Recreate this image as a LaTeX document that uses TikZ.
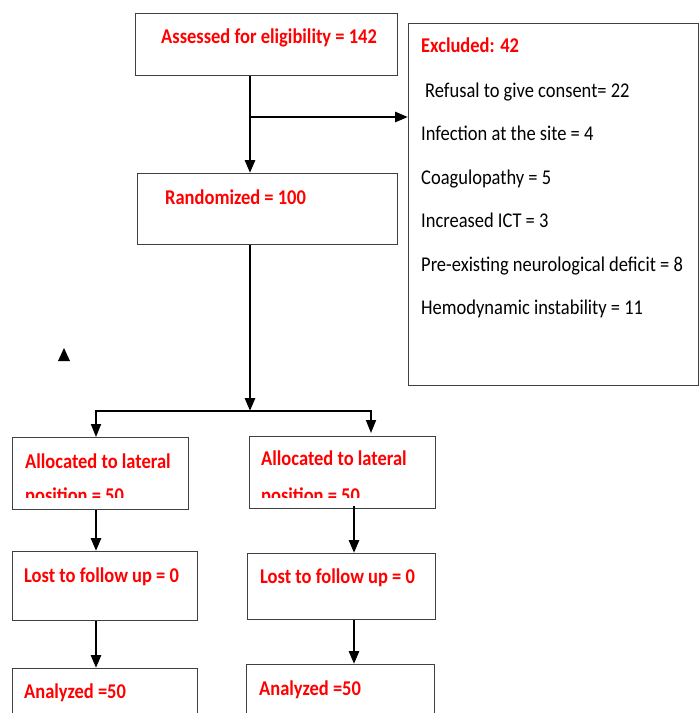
\documentclass[tikz,border=0pt]{standalone}
\usepackage{fontspec}
\setmainfont{Carlito}[FakeStretch=0.88]
\usetikzlibrary{arrows.meta}

\tikzset{
  box/.style={draw=black!75, line width=1.3pt, anchor=north west, inner sep=0pt},
  redtxt/.style={text=red, font=\bfseries\fontsize{21}{25}\selectfont, anchor=base west, inner sep=0pt},
  blktxt/.style={font=\fontsize{21}{25}\selectfont, anchor=base west, inner sep=0pt},
  arr/.style={line width=2.8pt, -{Triangle[length=13pt,width=10pt]}},
  thinarr/.style={line width=1.8pt, -{Triangle[length=13pt,width=10pt]}},
}

\begin{document}
\begin{tikzpicture}[x=1pt,y=-1pt]
\useasboundingbox (0,0) rectangle (699,713);

\node[box, minimum width=262, minimum height=62] (assess) at (135,13) {};
\node[redtxt] (assesst) at (161,43) {Assessed for eligibility = 142};

\node[box, minimum width=290, minimum height=362] (excl) at (408,23) {};
\node[redtxt] (exclt) at (421,52) {Excluded: 42};
\node[blktxt] (ex1) at (425,97) {Refusal to give consent= 22};
\node[blktxt] (ex2) at (421,140) {Infection at the site = 4};
\node[blktxt] (ex3) at (421,184) {Coagulopathy = 5};
\node[blktxt] (ex4) at (421,227) {Increased ICT = 3};
\node[blktxt] (ex5) at (421,271) {Pre-existing neurological deficit = 8};
\node[blktxt] (ex6) at (421,314) {Hemodynamic instability = 11};

\node[box, minimum width=260, minimum height=71] (rand) at (137,173) {};
\node[redtxt] (randt) at (165,204) {Randomized = 100};

\node[box, minimum width=176, minimum height=72] (alloc1) at (12,437) {};
\node[redtxt] (alloc1t) at (25,468) {Allocated to lateral};
\node[box, minimum width=186, minimum height=72] (alloc2) at (249,436) {};
\node[redtxt] (alloc2t) at (261,465) {Allocated to lateral};
\begin{scope}
  \clip (0,470) rectangle (699,497);
  \node[redtxt] (alloc1p) at (25,502) {position = 50};
  \node[redtxt] (alloc2p) at (261,502) {position = 50};
\end{scope}

\node[box, minimum width=185, minimum height=69] (lost1) at (12,551) {};
\node[redtxt] (lost1t) at (24,582) {Lost to follow up = 0};
\node[box, minimum width=188, minimum height=66] (lost2) at (247,553) {};
\node[redtxt] (lost2t) at (260,583) {Lost to follow up = 0};

\node[box, minimum width=185, minimum height=60] (anal1) at (12,668) {};
\node[redtxt] (anal1t) at (24,698) {Analyzed =50};
\node[box, minimum width=188, minimum height=60] (anal2) at (246,664) {};
\node[redtxt] (anal2t) at (259,695) {Analyzed =50};

\coordinate (ax) at (250,0);
\coordinate (br) at (250,117);
\coordinate (split) at (250,411);
\coordinate (lx) at (96,0);
\coordinate (rx) at (371,0);
\coordinate (mx) at (354,0);

\draw[arr] (assess.south -| ax) -- (rand.north -| ax);
\draw[arr] (br) -- (br -| excl.west);
\draw[arr] (rand.south -| ax) -- (split);
\draw[thinarr] (split) -- (split -| lx) -- (alloc1.north -| lx);
\draw[thinarr] (split) -- (split -| rx) -- ([yshift=3pt]alloc2.north -| rx);
\draw[arr] (alloc1.south -| lx) -- (lost1.north -| lx);
\draw[arr] ([yshift=3pt]alloc2.south -| mx) -- (lost2.north -| mx);
\draw[arr] (lost1.south -| lx) -- (anal1.north -| lx);
\draw[arr] (lost2.south -| mx) -- (anal2.north -| mx);

\fill (58,361) -- (64,348) -- (70,361) -- cycle;
\end{tikzpicture}
\end{document}
